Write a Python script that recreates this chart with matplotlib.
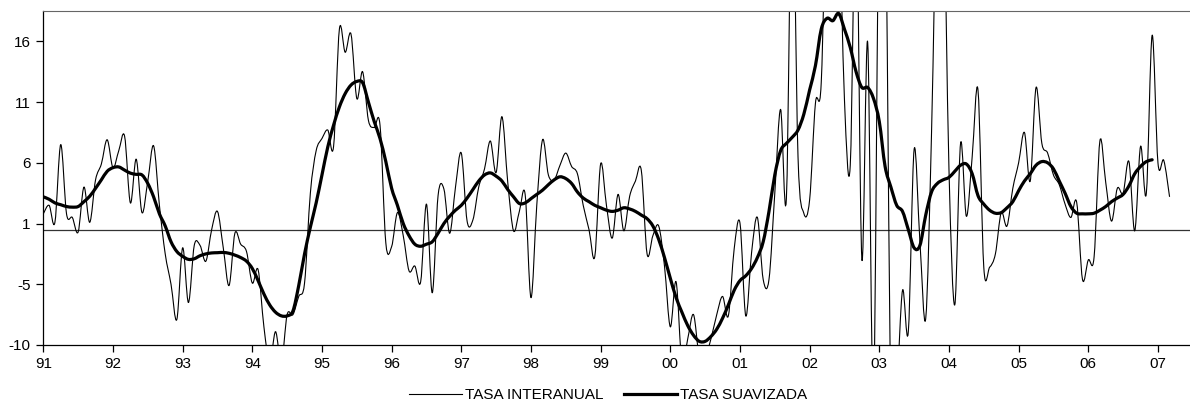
import matplotlib
matplotlib.use("Agg")
import matplotlib.pyplot as plt
import numpy as np
from matplotlib.lines import Line2D
from matplotlib.patches import PathPatch
from matplotlib.path import Path

START_YEAR = 1991

# monthly values from Jan 1991
tasa_interanual = [
    1.3, 2.0, 0.6, 7.0, 1.3, 1.0, -0.2, 3.5, 0.6, 4.1, 5.4, 7.4,
    5.1, 6.5, 7.7, 2.2, 5.8, 1.4, 4.0, 6.9, 2.0, -2.0, -4.5, -7.4,
    -1.5, -6.0, -1.3, -1.3, -2.6, 0.0, 1.5, -1.5, -4.6, -0.3, -1.2, -1.8,
    -4.4, -3.3, -8.0, -11.0, -8.4, -11.0, -7.0, -7.0, -5.5, -4.4, 3.0, 6.5,
    7.5, 8.2, 6.85, 16.5, 14.6, 16.1, 10.8, 13.0, 9.0, 8.4, 8.6, -1.1,
    -1.4, 1.4, -0.5, -3.4, -3.0, -4.3, 2.1, -5.2, 2.8, 3.35, -0.3, 3.5,
    6.3, 0.7, 0.8, 3.5, 5.0, 7.3, 4.7, 9.3, 3.9, -0.1, 1.5, 2.9,
    -5.6, 2.0, 7.4, 4.5, 4.1, 5.3, 6.3, 5.2, 4.6, 2.0, 0.0, -2.2,
    5.4, 2.0, -0.7, 2.9, -0.1, 2.75, 4.0, 4.9, -2.0, -0.5, 0.3, -3.0,
    -8.0, -4.3, -11.0, -9.0, -7.0, -10.5, -10.5, -9.0, -7.0, -5.5, -7.1, -1.6,
    0.55, -7.1, -1.9, 1.0, -4.1, -4.1, 3.0, 9.9, 2.6, 30.0, 6.0, 1.35,
    2.45, 10.4, 12.1, 30.0, 35.0, 28.0, 10.7, 5.3, 28.0, -2.4, 15.4, -14.0,
    30.0, 30.0, -14.0, -13.0, -5.0, -8.4, 6.6, -1.0, -7.3, 8.0, 30.0, 30.0,
    5.0, -6.2, 7.1, 1.1, 6.0, 11.5, -3.1, -3.1, -2.0, 1.4, 0.3, 3.4,
    5.5, 8.0, 4.0, 11.7, 7.1, 6.3, 4.5, 3.7, 2.1, 1.0, 2.25, -4.1,
    -2.5, -2.25, 7.3, 3.9, 0.7, 3.4, 3.0, 5.6, -0.1, 6.85, 3.0, 16.0,
    5.5, 5.7, 2.7,
]

tasa_suavizada = [
    2.7, 2.5, 2.2, 2.05, 1.9, 1.85, 1.9, 2.3, 2.75, 3.4, 4.1, 4.8,
    5.1, 5.16, 4.9, 4.65, 4.55, 4.5, 3.8, 2.7, 1.3, 0.3, -1.0, -1.8,
    -2.2, -2.45, -2.4, -2.15, -2.0, -1.92, -1.9, -1.88, -1.95, -2.1, -2.3, -2.6,
    -3.2, -4.2, -5.3, -6.2, -6.8, -7.1, -7.1, -6.7, -4.6, -2.0, 0.2, 2.2,
    4.5, 6.8, 8.6, 10.1, 11.2, 11.9, 12.2, 12.1, 10.5, 8.9, 7.5, 5.6,
    3.4, 2.0, 0.5, -0.5, -1.2, -1.37, -1.2, -1.0, -0.3, 0.5, 1.1, 1.6,
    2.0, 2.6, 3.3, 4.0, 4.5, 4.67, 4.4, 4.0, 3.3, 2.7, 2.15, 2.2,
    2.55, 2.9, 3.25, 3.7, 4.1, 4.35, 4.2, 3.8, 3.1, 2.6, 2.3, 2.0,
    1.8, 1.6, 1.5, 1.6, 1.8, 1.7, 1.5, 1.2, 0.9, 0.3, -0.8, -2.3,
    -4.0, -5.6, -6.8, -7.9, -8.7, -9.2, -9.2, -8.8, -8.2, -7.3, -6.2, -5.0,
    -4.2, -3.8, -3.2, -2.3, -1.0, 1.5, 4.5, 6.5, 7.1, 7.6, 8.2, 9.5,
    11.5, 13.5, 16.5, 17.4, 17.2, 17.8, 16.5, 15.0, 13.0, 11.7, 11.7, 10.8,
    8.9, 5.2, 3.5, 2.0, 1.5, 0.0, -1.5, -1.3, 1.2, 3.1, 3.8, 4.1,
    4.3, 4.8, 5.3, 5.4, 4.6, 2.8, 2.1, 1.6, 1.35, 1.4, 1.8, 2.3,
    3.2, 4.0, 4.6, 5.3, 5.6, 5.5, 5.0, 4.0, 3.0, 1.9, 1.35, 1.3,
    1.3, 1.35, 1.6, 1.9, 2.3, 2.6, 2.9, 3.6, 4.6, 5.2, 5.6, 5.75,
]

year_labels = ["91", "92", "93", "94", "95", "96", "97", "98", "99",
               "00", "01", "02", "03", "04", "05", "06", "07"]
y_tick_labels = ["-10", "-5", "1", "6", "11", "16"]
y_ticks = [-9.5, -4.5, 0.5, 5.5, 10.5, 15.5]


def smoothed_path(x, y):
    # spreadsheet-style smoothed line: cubic Bezier through every point
    pts = np.column_stack([x, y])
    n = len(pts)
    verts = [pts[0]]
    codes = [Path.MOVETO]
    for i in range(n - 1):
        p0 = pts[max(i - 1, 0)]
        p1 = pts[i]
        p2 = pts[i + 1]
        p3 = pts[min(i + 2, n - 1)]
        verts += [p1 + (p2 - p0) / 6, p2 - (p3 - p1) / 6, p2]
        codes += [Path.CURVE4] * 3
    return Path(verts, codes)


plt.rcParams["font.family"] = ["Liberation Sans", "DejaVu Sans"]

fig = plt.figure(figsize=(11.9, 4.05), dpi=100)
ax = fig.add_axes([43.3 / 1190, 1 - 345 / 405, 1 - 43.3 / 1190, (345 - 11) / 405])

x_thin = START_YEAR + np.arange(len(tasa_interanual)) / 12
x_thick = START_YEAR + np.arange(len(tasa_suavizada)) / 12

ax.axhline(0, color="#333333", lw=0.9, zorder=1)
ax.add_patch(PathPatch(smoothed_path(x_thin, tasa_interanual), fill=False,
                       edgecolor="black", lw=0.8, joinstyle="round", zorder=2))
ax.add_patch(PathPatch(smoothed_path(x_thick, tasa_suavizada), fill=False,
                       edgecolor="black", lw=2.3, joinstyle="round",
                       capstyle="round", zorder=3))

ax.set_xlim(START_YEAR, START_YEAR + 16.46)
ax.set_ylim(-9.5, 18.0)
ax.set_xticks(START_YEAR + np.arange(len(year_labels)))
ax.set_xticklabels(year_labels)
ax.set_yticks(y_ticks)
ax.set_yticklabels(y_tick_labels)
ax.tick_params(direction="out", length=5, width=0.9, labelsize=11, pad=4)

ax.spines["right"].set_visible(False)
ax.spines["top"].set_color("#666666")
for side in ("left", "bottom"):
    ax.spines[side].set_linewidth(0.9)

handles = [Line2D([], [], color="black", lw=0.8),
           Line2D([], [], color="black", lw=2.3)]
fig.legend(handles, ["TASA INTERANUAL", "TASA SUAVIZADA"], loc="center",
           bbox_to_anchor=(608 / 1190, 1 - 395 / 405), ncol=2, frameon=False,
           fontsize=11, handlelength=3.5, handletextpad=0.2,
           columnspacing=1.3, borderpad=0)

fig.savefig("out.png", dpi=100)
